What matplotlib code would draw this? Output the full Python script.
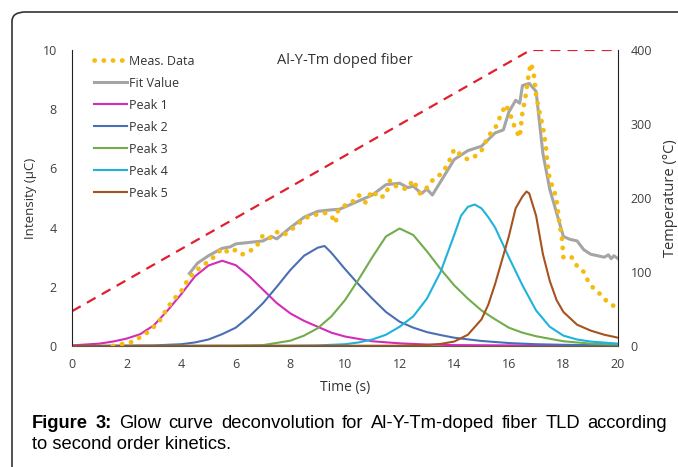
import numpy as np
import matplotlib
matplotlib.use('Agg')
import matplotlib.pyplot as plt
from matplotlib.patches import FancyBboxPatch

# measured glow curve (time s, intensity uC)
meas_t = [1.5, 1.75, 2.0, 2.25, 2.5, 2.75, 3.0, 3.25, 3.5, 3.75, 4.0, 4.25, 4.5, 4.75,
          5.0, 5.25, 5.5, 5.75, 6.0, 6.25, 6.5, 6.75, 7.0, 7.25, 7.5, 7.75, 8.0, 8.25,
          8.5, 8.75, 9.0, 9.25, 9.5, 9.65, 9.75, 10.0, 10.25, 10.5, 10.75, 11.0, 11.25,
          11.5, 11.65, 11.75, 12.0, 12.25, 12.5, 12.75, 13.0, 13.25, 13.5, 13.75, 14.0,
          14.25, 14.5, 14.75, 15.0, 15.25, 15.5, 15.75, 15.9, 16.1, 16.25, 16.4, 16.5,
          16.6, 16.7, 16.8, 16.9, 17.0, 17.1, 17.25, 17.35, 17.4, 17.5, 17.65, 17.75,
          17.85, 17.95, 18.0, 18.15, 18.3, 18.5, 18.75, 18.9, 19.1, 19.35, 19.6, 19.85, 20.0]
meas_v = [0.0, 0.05, 0.1, 0.15, 0.3, 0.45, 0.65, 0.9, 1.3, 1.6, 1.85, 2.25, 2.5, 2.7,
          2.85, 3.05, 3.3, 3.15, 3.25, 3.1, 3.2, 3.35, 3.75, 3.65, 3.85, 3.75, 3.9, 4.1,
          4.3, 4.4, 4.45, 4.5, 4.4, 4.15, 4.6, 4.75, 4.85, 5.1, 4.85, 5.25, 5.0,
          5.1, 5.6, 5.45, 5.35, 5.3, 5.6, 5.15, 5.35, 5.65, 5.8, 6.1, 6.65,
          6.45, 6.3, 6.4, 6.6, 7.1, 7.35, 7.9, 8.15, 7.7, 7.3, 7.05, 7.9,
          8.35, 9.0, 9.55, 9.3, 8.5, 8.0, 7.4, 6.8, 6.3, 5.6, 5.3, 4.9,
          4.2, 3.6, 3.0, 2.95, 3.0, 2.7, 2.5, 2.2, 1.95, 1.75, 1.5, 1.35, 1.3]

fit_t = [4.3, 4.6, 5.0, 5.5, 5.8, 6.0, 6.5, 7.0, 7.3, 7.5, 8.0, 8.5, 9.0, 9.5, 9.8, 10.0,
         10.5, 11.0, 11.5, 12.0, 12.3, 12.5, 12.8, 13.0, 13.2, 13.5, 13.8, 14.0, 14.5,
         15.0, 15.5, 15.8, 16.0, 16.25, 16.4, 16.5, 16.75, 17.0, 17.25, 17.5, 17.75, 18.0,
         18.25, 18.5, 18.75, 19.0, 19.25, 19.5, 19.65, 19.75, 19.85, 20.0]
fit_v = [2.45, 2.8, 3.05, 3.3, 3.35, 3.45, 3.5, 3.55, 3.7, 3.62, 4.0, 4.35, 4.55, 4.6,
         4.62, 4.7, 4.9, 5.1, 5.45, 5.5, 5.35, 5.4, 5.15, 5.3, 5.1, 5.55, 6.0, 6.3, 6.6,
         6.75, 7.2, 7.3, 7.9, 8.3, 8.2, 8.8, 8.87, 8.6, 6.5, 5.3, 4.5, 3.7, 3.6, 3.55,
         3.25, 3.1, 3.05, 3.0, 3.08, 2.95, 3.05, 2.95]

p1_t = [0, 1, 1.5, 2, 2.5, 3, 3.5, 4, 4.5, 5, 5.5, 6, 6.5, 7, 7.5, 8, 8.5, 9, 9.5, 10,
        11, 12, 13, 14, 16, 20]
p1_v = [0.02, 0.08, 0.15, 0.25, 0.4, 0.7, 1.2, 1.75, 2.35, 2.72, 2.88, 2.73, 2.35, 1.9,
        1.45, 1.1, 0.85, 0.65, 0.45, 0.32, 0.16, 0.09, 0.05, 0.03, 0.02, 0.01]

p2_t = [0, 3, 4, 4.5, 5, 5.5, 6, 6.5, 7, 7.5, 8, 8.5, 9, 9.25, 9.5, 10, 10.5, 11, 11.5,
        12, 12.5, 13, 13.5, 14, 15, 16, 17, 18, 20]
p2_v = [0.0, 0.02, 0.06, 0.12, 0.22, 0.4, 0.62, 1.0, 1.45, 2.0, 2.57, 3.05, 3.32, 3.38,
        3.15, 2.6, 2.08, 1.6, 1.15, 0.82, 0.62, 0.47, 0.37, 0.28, 0.17, 0.1, 0.06, 0.04, 0.02]

p3_t = [0, 6, 7, 8, 8.5, 9, 9.5, 10, 10.5, 11, 11.5, 12, 12.5, 13, 13.5, 14, 14.5, 15,
        15.5, 16, 16.5, 17, 18, 19, 20]
p3_v = [0.0, 0.01, 0.03, 0.18, 0.35, 0.6, 1.0, 1.55, 2.25, 3.0, 3.7, 3.97, 3.75, 3.2,
        2.6, 2.05, 1.6, 1.2, 0.9, 0.62, 0.45, 0.33, 0.16, 0.08, 0.05]

p4_t = [0, 8, 9, 10, 10.5, 11, 11.5, 12, 12.5, 13, 13.5, 14, 14.25, 14.5, 14.75, 15,
        15.25, 15.5, 16, 16.5, 17, 17.5, 18, 18.5, 19, 20]
p4_v = [0.0, 0.01, 0.02, 0.06, 0.12, 0.22, 0.38, 0.65, 1.0, 1.6, 2.5, 3.75, 4.4, 4.7,
        4.78, 4.65, 4.35, 4.0, 3.0, 2.05, 1.2, 0.65, 0.35, 0.22, 0.15, 0.08]

p5_t = [0, 12, 13, 13.5, 14, 14.5, 15, 15.25, 15.5, 15.75, 16, 16.25, 16.5, 16.65,
        16.75, 17, 17.25, 17.5, 17.75, 18, 18.5, 19, 19.5, 20]
p5_v = [0.0, 0.01, 0.03, 0.07, 0.15, 0.38, 0.9, 1.4, 2.1, 2.9, 3.7, 4.65, 5.05, 5.22,
        5.15, 4.4, 3.1, 2.2, 1.55, 1.15, 0.72, 0.52, 0.38, 0.28]

temp_t = [0, 16.8, 20]
temp_v = [47, 400, 400]

x_ticks = list(range(0, 21, 2))
y_ticks = list(range(0, 11, 2))
t_ticks = list(range(0, 401, 100))

chart_font = 'Open Sans'
tick_color = '#404040'
W, H = 678, 467

fig = plt.figure(figsize=(6.78, 4.67), dpi=100)
ax = fig.add_axes([72 / W, 1 - 346 / H, 546 / W, 296 / H])
ax2 = ax.twinx()

# temperature ramp behind everything
ax2.plot(temp_t, temp_v, color='#E0202E', lw=1.6, dashes=(4.5, 3.2))
ax2.set_ylim(0, 400)
ax2.set_yticks(t_ticks)

ax.set_zorder(ax2.get_zorder() + 1)
ax.patch.set_visible(False)

ax.plot(fit_t, fit_v, color='#A5A5A5', lw=2.2, label='Fit Value', zorder=2)
ax.plot(meas_t, meas_v, color='#F4BC10', lw=3.4, linestyle=(0, (0.05, 1.9)),
        dash_capstyle='round', label='Meas. Data', zorder=3)
ax.plot(p1_t, p1_v, color='#D22CB8', lw=1.5, label='Peak 1')
ax.plot(p2_t, p2_v, color='#4A6FB5', lw=1.5, label='Peak 2')
ax.plot(p3_t, p3_v, color='#72AC4C', lw=1.5, label='Peak 3')
ax.plot(p4_t, p4_v, color='#1FB3DC', lw=1.5, label='Peak 4')
ax.plot(p5_t, p5_v, color='#A5531F', lw=1.5, label='Peak 5')

ax.set_xlim(0, 20)
ax.set_ylim(0, 10)
ax.set_xticks(x_ticks)
ax.set_yticks(y_ticks)

for a in (ax, ax2):
    a.tick_params(length=0, labelsize=9, colors=tick_color)
    for lab in a.get_xticklabels() + a.get_yticklabels():
        lab.set_fontfamily(chart_font)
    for s in a.spines.values():
        s.set_visible(False)
ax.tick_params(axis='x', pad=9)
ax.tick_params(axis='y', pad=11)
ax2.tick_params(axis='y', pad=9)

ax.spines['left'].set_visible(True)
ax.spines['left'].set_color('#222222')
ax.spines['bottom'].set_visible(True)
ax.spines['bottom'].set_color('#6b5a3a')
ax2.spines['right'].set_visible(True)
ax2.spines['right'].set_color('#222222')

ax.set_xlabel('Time (s)', fontsize=10, family=chart_font, color='#333333', labelpad=6)
ax.set_ylabel('Intensity (μC)', fontsize=9.5, family=chart_font, color='#333333')
ax.yaxis.set_label_coords((31 - 72) / 546, 0.5)
ax.yaxis.label.set_va('center')
ax2.set_ylabel('Temperature (°C)', fontsize=10.5, family=chart_font, color='#333333',
               rotation=90)
ax2.yaxis.set_label_coords((670 - 72) / 546, 0.5)
ax2.yaxis.label.set_va('center')

ax.text(0.5, 0.99, 'Al-Y-Tm doped fiber', transform=ax.transAxes, ha='center', va='top',
        fontsize=10.5, family=chart_font, color='#333333')

leg = ax.legend(['Meas. Data', 'Fit Value', 'Peak 1', 'Peak 2', 'Peak 3', 'Peak 4', 'Peak 5'],
                handles=[ax.lines[1], ax.lines[0]] + ax.lines[2:],
                loc='upper left', bbox_to_anchor=(0.02, 1.022), frameon=False,
                prop={'family': chart_font, 'size': 9}, handlelength=2.6,
                handletextpad=0.2, labelspacing=0.72)
for txt in leg.get_texts():
    txt.set_color('#333333')

# frame round the figure panel
box = FancyBboxPatch((12 / W, -0.1), 1.1, 1 - 12 / H + 0.1,
                     boxstyle='round,pad=0,rounding_size=0.02', transform=fig.transFigure,
                     fill=False, edgecolor='#333333', lw=1.2)
fig.patches.append(box)

# caption, first line justified between x=32 and x=667
cap_font = 'Liberation Sans'
cap_size = 13.2
renderer = fig.canvas.get_renderer()
line1 = [('Figure', 'bold'), ('3:', 'bold'), ('Glow', 'normal'), ('curve', 'normal'),
         ('deconvolution', 'normal'), ('for', 'normal'), ('Al-Y-Tm-doped', 'normal'),
         ('fiber', 'normal'), ('TLD', 'normal'), ('according', 'normal')]
words = []
for w, weight in line1:
    t = fig.text(0, 1 - 428 / H, w, fontsize=cap_size, fontweight=weight,
                 family=cap_font, ha='left', va='baseline')
    words.append((t, t.get_window_extent(renderer).width))
total = sum(wd for _, wd in words)
gap = (667 - 32 - total) / (len(words) - 1)
x = 32
for t, wd in words:
    t.set_x(x / W)
    x += wd + gap
fig.text(32 / W, 1 - 449 / H, 'to second order kinetics.', fontsize=cap_size,
         family=cap_font, ha='left', va='baseline')

fig.savefig('out.png', dpi=100)
